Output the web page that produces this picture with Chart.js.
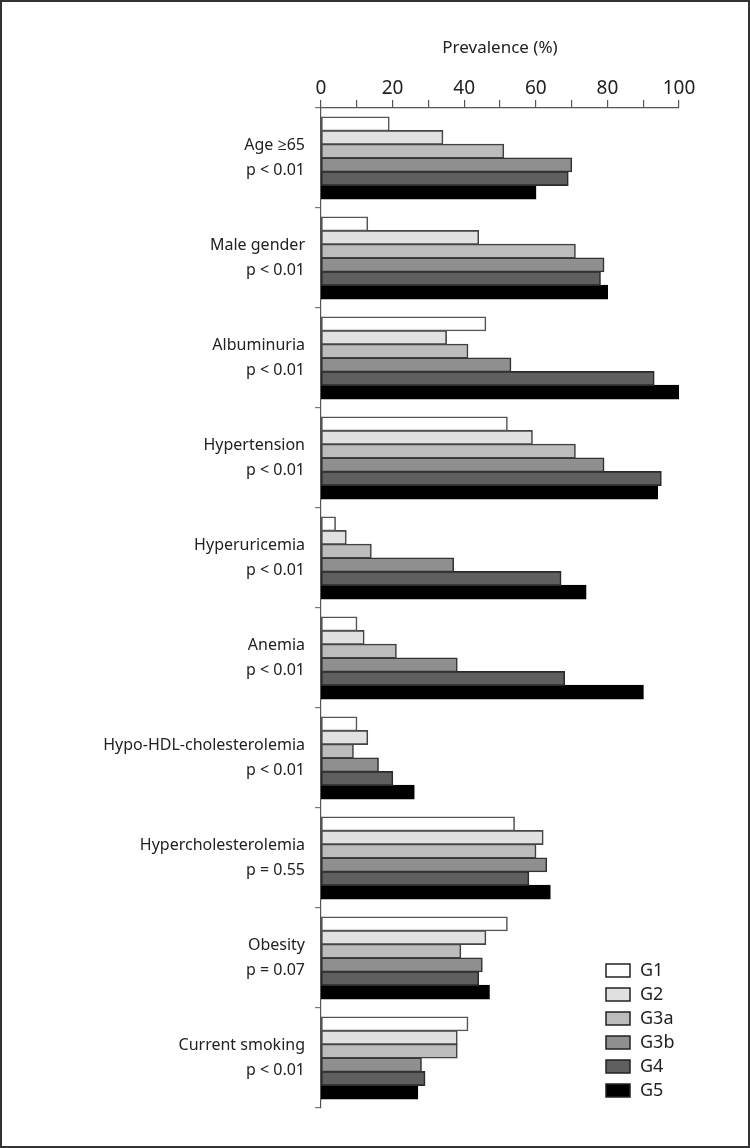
<!DOCTYPE html>
<html>
<head>
<meta charset="utf-8">
<script src="https://cdn.jsdelivr.net/npm/chart.js@4.4.1/dist/chart.umd.min.js"></script>
<style>
  html, body { margin: 0; padding: 0; background: #fff; }
  #wrap { width: 750px; height: 1148px; }
</style>
</head>
<body>
<div id="wrap"><canvas id="myChart" width="750" height="1148"></canvas></div>
<script>
const categories = [
  ['Age \u226565', 'p < 0.01'],
  ['Male gender', 'p < 0.01'],
  ['Albuminuria', 'p < 0.01'],
  ['Hypertension', 'p < 0.01'],
  ['Hyperuricemia', 'p < 0.01'],
  ['Anemia', 'p < 0.01'],
  ['Hypo-HDL-cholesterolemia', 'p < 0.01'],
  ['Hypercholesterolemia', 'p = 0.55'],
  ['Obesity', 'p = 0.07'],
  ['Current smoking', 'p < 0.01']
]
const groups = ['G1', 'G2', 'G3a', 'G3b', 'G4', 'G5']
const g1 = [19, 13, 46, 52, 4, 10, 10, 54, 52, 41]
const g2 = [34, 44, 35, 59, 7, 12, 13, 62, 46, 38]
const g3a = [51, 71, 41, 71, 14, 21, 9, 60, 39, 38]
const g3b = [70, 79, 53, 79, 37, 38, 16, 63, 45, 28]
const g4 = [69, 78, 93, 95, 67, 68, 20, 58, 44, 29]
const g5 = [60, 80, 100, 94, 74, 90, 26, 64, 47, 27]
const xTicks = [0, 20, 40, 60, 80, 100]

const fills = ['#ffffff', '#e1e1e1', '#bcbcbc', '#8f8f8f', '#5f5f5f', '#000000']
const edges = ['#555555', '#444444', '#404040', '#333333', '#2a2a2a', '#000000']
const font = '"Noto Sans", "Open Sans", sans-serif'

const series = [g1, g2, g3a, g3b, g4, g5]

// legend drawn inside the plot, bottom right, plus the outer frame
const innerLegend = {
  id: 'innerLegend',
  afterDraw(chart) {
    const ctx = chart.ctx
    ctx.save()
    chart.data.datasets.forEach((ds, i) => {
      const y = 964 + i * 24
      ctx.fillStyle = ds.backgroundColor
      ctx.fillRect(606, y, 24, 13)
      ctx.strokeStyle = '#222'
      ctx.lineWidth = 1.5
      ctx.strokeRect(606, y, 24, 13)
      ctx.fillStyle = '#222'
      ctx.font = '18px ' + font
      ctx.textBaseline = 'middle'
      ctx.fillText(ds.label, 640, y + 7)
    })
    ctx.strokeStyle = '#333'
    ctx.lineWidth = 2
    ctx.strokeRect(1, 1, 748, 1146)
    ctx.restore()
  }
}

new Chart(document.getElementById('myChart'), {
  type: 'bar',
  data: {
    labels: categories,
    datasets: groups.map((g, i) => ({
      label: g,
      data: series[i],
      backgroundColor: fills[i],
      borderColor: edges[i],
      borderWidth: 1.6,
      borderSkipped: false,
      inflateAmount: 0.6,
      categoryPercentage: 0.82,
      barPercentage: 1
    }))
  },
  options: {
    indexAxis: 'y',
    responsive: false,
    animation: false,
    layout: { padding: { right: 71, bottom: 40 } },
    plugins: {
      legend: { display: false },
      tooltip: { enabled: false }
    },
    scales: {
      x: {
        position: 'top',
        min: 0,
        max: 100,
        afterFit: s => { s.height = 108 },
        afterBuildTicks: s => { s.ticks = [0, 10, 20, 30, 40, 50, 60, 70, 80, 90, 100].map(v => ({ value: v })) },
        ticks: {
          color: '#222',
          font: { family: font, size: 19 },
          padding: 0,
          maxRotation: 0,
          autoSkip: false,
          callback: v => xTicks.includes(v) ? String(v) : ''
        },
        grid: { drawOnChartArea: false, tickLength: 8, color: '#555', lineWidth: 1.2 },
        border: { color: '#555', width: 1.2 },
        title: {
          display: true,
          text: 'Prevalence (%)',
          color: '#222',
          font: { family: font, size: 17 },
          padding: { top: 38, bottom: 6 }
        }
      },
      y: {
        afterFit: s => { s.width = 321 },
        ticks: {
          color: '#222',
          font: { family: font, size: 16, lineHeight: 1.55 },
          padding: 10,
          autoSkip: false
        },
        grid: { drawOnChartArea: false, offset: true, tickLength: 6, color: '#777', lineWidth: 1.2 },
        border: { color: '#555', width: 1.2 }
      }
    }
  },
  plugins: [innerLegend]
})
</script>
</body>
</html>
